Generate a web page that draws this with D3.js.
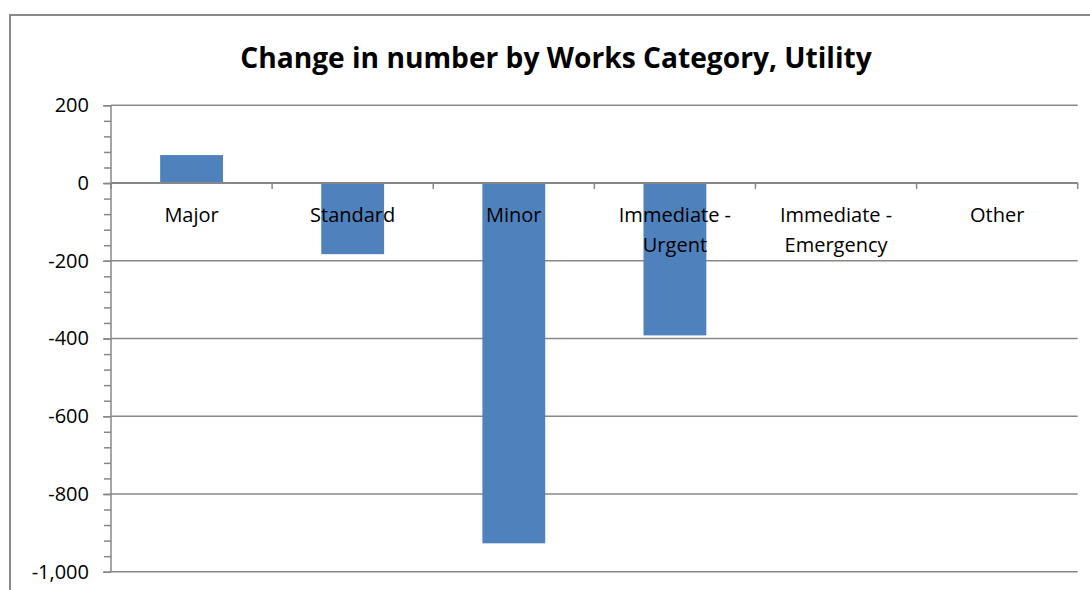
<!DOCTYPE html>
<html>
<head>
<meta charset="utf-8">
<script src="https://cdn.jsdelivr.net/npm/d3@7/dist/d3.min.js"></script>
<style>
  html, body { margin: 0; padding: 0; background: #fff; }
  svg { display: block; }
  text { font-family: "Open Sans", "Liberation Sans", sans-serif; fill: #000; }
</style>
</head>
<body>
<svg id="chart" width="1090" height="590"></svg>
<script>
const title = "Change in number by Works Category, Utility";
const categories = ["Major", "Standard", "Minor", "Immediate - Urgent", "Immediate - Emergency", "Other"];
const categoryLines = [["Major"], ["Standard"], ["Minor"], ["Immediate -", "Urgent"], ["Immediate -", "Emergency"], ["Other"]];
const values = [72, -183, -927, -392, -1, 0];
const majorTicks = [200, 0, -200, -400, -600, -800, -1000];
const yDomain = [-1000, 200];

(function () {
const svg = d3.select("#chart");
const W = 1090, H = 590;
const pLeft = 111, pRight = 1077.7, pTop = 105.3, pBottom = 571.7;
const gridColor = "#878787";

// outer chart border
svg.append("rect").attr("x", 10).attr("y", 15).attr("width", W).attr("height", H)
  .attr("fill", "#fff").attr("stroke", "#8a8a8a").attr("stroke-width", 2);

// title
const t = svg.append("text").attr("x", 556).attr("y", 68).attr("text-anchor", "middle")
  .attr("font-weight", "bold").attr("font-size", 28).text(title);
const tl = t.node().getComputedTextLength();
t.attr("font-size", 28 * 632 / tl);

const x = d3.scaleBand().domain(categories).range([pLeft, pRight]).padding(0);
const y = d3.scaleLinear().domain(yDomain).range([pBottom, pTop]);
const barW = x.bandwidth() * 0.39;

// gridlines
svg.append("g").selectAll("line").data(majorTicks).join("line")
  .attr("x1", pLeft).attr("x2", pRight)
  .attr("y1", d => y(d)).attr("y2", d => y(d))
  .attr("stroke", gridColor).attr("stroke-width", 1.5);

// bars
svg.append("g").selectAll("rect").data(values).join("rect")
  .attr("x", (d, i) => x(categories[i]) + (x.bandwidth() - barW) / 2)
  .attr("width", barW)
  .attr("y", d => y(Math.max(0, d)))
  .attr("height", d => Math.abs(y(d) - y(0)))
  .attr("fill", "#4f81bd");

// y axis minor ticks
const minorTicks = d3.range(yDomain[0], yDomain[1] + 1, 40);
const yMinor = svg.append("g").attr("transform", `translate(${pLeft},0)`)
  .call(d3.axisLeft(y).tickValues(minorTicks).tickSize(7).tickFormat(""));
yMinor.select(".domain").remove();
yMinor.selectAll("line").attr("stroke", gridColor).attr("stroke-width", 1.5);

// y axis major
const fmt = d3.format(",");
const yAxis = svg.append("g").attr("transform", `translate(${pLeft},0)`)
  .call(d3.axisLeft(y).tickValues(majorTicks).tickSize(8).tickPadding(14)
    .tickFormat(d => fmt(d).replace("\u2212", "-")));
yAxis.select(".domain").attr("stroke", gridColor).attr("stroke-width", 1.5).attr("d", `M0,${pTop}V${pBottom}`);
yAxis.selectAll(".tick line").attr("stroke", gridColor).attr("stroke-width", 1.5);
yAxis.selectAll(".tick text").attr("font-size", 20).attr("font-family", "Open Sans, sans-serif").attr("fill", "#000");

// x axis at zero
const xAxisG = svg.append("g").attr("transform", `translate(0,${y(0)})`);
xAxisG.append("line").attr("x1", pLeft).attr("x2", pRight).attr("y1", 0).attr("y2", 0)
  .attr("stroke", gridColor).attr("stroke-width", 2);
const bounds = categories.map(c => x(c)).concat([pRight]);
xAxisG.selectAll("line.tk").data(bounds).join("line").attr("class", "tk")
  .attr("x1", d => d).attr("x2", d => d).attr("y1", 0).attr("y2", 6)
  .attr("stroke", gridColor).attr("stroke-width", 1.5);

// category labels
const lab = svg.append("g").selectAll("text").data(categories).join("text")
  .attr("text-anchor", "middle").attr("font-size", 20)
  .attr("x", d => x(d) + x.bandwidth() / 2).attr("y", 222);
lab.selectAll("tspan").data((d, i) => categoryLines[i]).join("tspan")
  .attr("x", function() { return d3.select(this.parentNode).attr("x"); })
  .attr("dy", (d, i) => i === 0 ? 0 : 30)
  .text(d => d);
})();
</script>
</body>
</html>
